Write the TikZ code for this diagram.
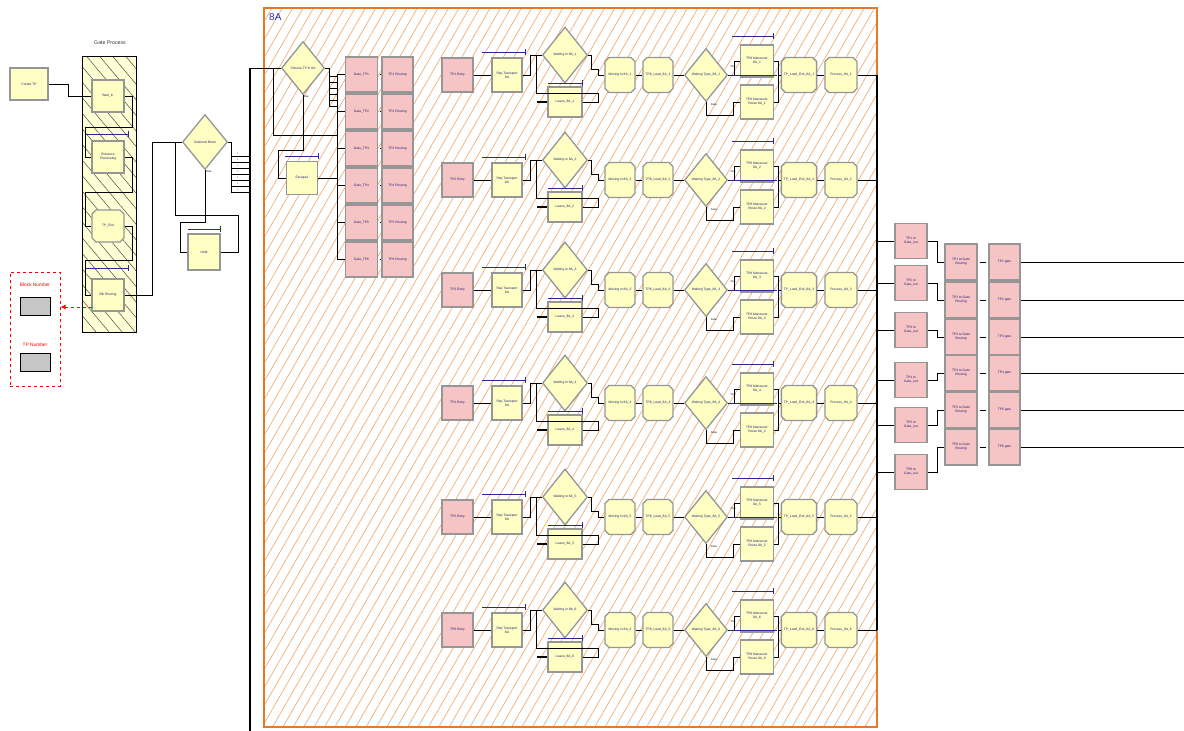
\documentclass[tikz,border=0pt]{standalone}
\usepackage{fontspec}
\setmainfont{Liberation Sans}
\usetikzlibrary{shapes.geometric,shapes.misc,patterns.meta,arrows.meta,calc}
\definecolor{ayel}{RGB}{255,255,196}
\definecolor{apink}{RGB}{246,196,196}
\definecolor{aedge}{RGB}{150,150,150}
\definecolor{atext}{RGB}{30,30,120}
\definecolor{abar}{RGB}{40,40,150}
\definecolor{aorange}{RGB}{232,120,40}
\definecolor{ahatch}{RGB}{240,175,120}
\definecolor{ablue}{RGB}{40,40,200}
\tikzset{
  mod/.style={draw=aedge, line width=1.3pt, inner sep=0.5pt, align=center, text=atext,
    font=\fontsize{3.3}{3.8}\selectfont},
  ybox/.style={mod, rectangle, fill=ayel},
  pbox/.style={mod, rectangle, fill=apink},
  hexbox/.style={mod, chamfered rectangle, chamfered rectangle xsep=2pt, chamfered rectangle ysep=2pt, fill=ayel},
  dmd/.style={mod, diamond, fill=ayel, inner sep=0pt},
  qbar/.style={draw=abar, line width=1pt},
  conn/.style={draw=black, line width=0.9pt},
  tiny/.style={font=\fontsize{2.6}{3}\selectfont, text=black, inner sep=0pt},
}
\begin{document}
\begin{tikzpicture}[x=1pt,y=-1pt]
\useasboundingbox[fill=white] (0,0) rectangle (1184,731);

% ---------- main 8A frame ----------
\node[draw=aorange, line width=1.5pt, preaction={fill=white}, minimum width=613pt, minimum height=719pt,
  pattern={Lines[angle=60,distance=9pt,line width=0.7pt]}, pattern color=ahatch] (frame) at (570.5,367.5) {};
\node[anchor=north west, text=ablue, font=\fontsize{10}{11}\selectfont, inner sep=0pt] (lab8a) at (269,13) {8A};

% ---------- Gate Process frame ----------
\node[draw=black, line width=1pt, preaction={fill=ayel!70}, minimum width=54pt, minimum height=276pt,
  pattern={Lines[angle=-50,distance=10pt,line width=0.5pt]}, pattern color=black!70] (gpf) at (109,194) {};
\node[font=\fontsize{5.2}{5.5}\selectfont, text=black!80, inner sep=0pt] (gptitle) at (110,43) {Gate Process};

% ---------- left modules ----------
\node[ybox, minimum width=38pt, minimum height=32pt] (create) at (29,84) {Create TP};
\node[ybox, minimum width=32pt, minimum height=32pt] (b1) at (108,96) {Wait\_In};
\node[ybox, minimum width=32pt, minimum height=32pt] (b2) at (108,157) {Entrance\\Processing};
\node[hexbox, minimum width=32pt, minimum height=32pt] (b3) at (108,226) {TP\_Exit};
\node[ybox, minimum width=32pt, minimum height=32pt] (b4) at (108,295) {Blk Routing};
\draw[qbar] (86,134) -- (128,134) ++(0,-3) -- ++(0,6);
\draw[qbar] (86,268) -- (128,268) ++(0,-3) -- ++(0,6);

\draw[conn] (create.east) -- (68,84) |- (b1.west);
\draw[conn] (b1.east) -- (132,96) |- (85,127) |- (b2.west);
\draw[conn] (b2.east) -- (132,157) |- (85,192) |- (b3.west);
\draw[conn] (b3.east) -- (132,226) |- (85,260) |- (b4.west);

\node[dmd, minimum width=45pt, minimum height=55pt] (sel) at (205,142) {Selected Block};
\node[tiny] (selelse) at (209,172) {Else};
\node[ybox, minimum width=32pt, minimum height=36pt] (hold) at (204,252) {Hold};
\draw[qbar] (188,229) -- (220,229) ++(0,-3) -- ++(0,6);

\draw[conn] (b4.east) -- (152,295) |- (sel.west);
\draw[conn] (sel.south) |- (180,222) |- (hold.west);
\draw[conn] (hold.east) -| (238,215) -| (175,142);
\draw[conn] (sel.east) -- (231,142) -- (231,192);
\foreach \k in {0,...,6}{
  \draw[conn] (231,156+6*\k) -- (250,156+6*\k);
  \node[tiny, font=\fontsize{2}{2}\selectfont] (sl\k) at (238,154+6*\k) {1};
}

% main bus
\coordinate (bustop) at (250,68);
\coordinate (busbot) at (250,731);
\draw[conn, line width=1.2pt] (bustop) -- (busbot);

% variables box
\node[draw=red, dashed, line width=1pt, minimum width=50pt, minimum height=114pt] (vars) at (35,329) {};
\node[text=red, font=\fontsize{4.8}{5}\selectfont, inner sep=0pt] (vlab1) at (35,285) {Block Number};
\node[draw=black, line width=0.8pt, fill=gray!45, minimum width=30pt, minimum height=18pt] (var1) at (35,306) {};
\node[text=red, font=\fontsize{4.8}{5}\selectfont, inner sep=0pt] (vlab2) at (35,345) {TP Number};
\node[draw=black, line width=0.8pt, fill=gray!45, minimum width=30pt, minimum height=18pt] (var2) at (35,362) {};
\coordinate (arrs) at (92,307);
\draw[red, dashed, line width=1pt, -{Latex[length=5pt,width=5pt]}] (arrs) -- (vars.east |- arrs);

% ---------- 8A first stage ----------
\node[dmd, minimum width=43pt, minimum height=53pt] (choose) at (303,68) {Choose TP in 8A};
\node[tiny] (chelse) at (306,97) {Else};
\draw[conn] (bustop) -- (choose.west);
\node[ybox, minimum width=31pt, minimum height=33pt] (esc) at (302,178) {Escape1};
\draw[qbar] (285,156) -- (318,156) ++(0,-3) -- ++(0,6);

\foreach \j in {1,...,6}{
  \pgfmathsetmacro\gy{74.5+37*(\j-1)}
  \node[pbox, minimum width=32pt, minimum height=35pt] (gate\j) at (361.5,\gy) {Gate\_TP\j};
  \node[pbox, minimum width=31pt, minimum height=35pt] (trt\j) at (397.5,\gy) {TP\j{} Routing};
  \draw[conn] (337,\gy) -- (gate\j.west);
  \draw[conn] ($(gate\j.east)+(1.5,0)$) -- ($(trt\j.west)+(-1.5,0)$);
}
\draw[conn] (337,74.5) -- (337,259.5);
\draw[conn] (choose.east) -- (329,68) -- (329,106);
\foreach \k in {1,...,6}{ \draw[conn] (329,70+6*\k) -- (337,70+6*\k); }
\draw[conn] (273,68) |- (337,135);
\draw[conn] (choose.south) |- (278,150) |- (esc.west);
\draw[conn] (esc.east) -- (337,178);

% ---------- six rows ----------
\foreach \i/\yc in {1/75,2/180,3/290,4/403,5/517,6/630}{
  \node[pbox, minimum width=31pt, minimum height=34pt] (entry\i) at (457.5,\yc) {TP\i{} Entry};
  \node[ybox, minimum width=30pt, minimum height=34pt] (req\i) at (507,\yc) {Req Transport\\8A};
  \draw[qbar] (482,\yc-23) -- (525,\yc-23) ++(0,-3) -- ++(0,6);
  \node[dmd, minimum width=45pt, minimum height=56pt] (wait\i) at (565,\yc-20) {Waiting in 8A\_\i};
  \node[ybox, minimum width=34pt, minimum height=30pt] (leave\i) at (565,\yc+27) {Leave\_8A\_\i};
  \draw[qbar] (548,\yc+8) -- (582,\yc+8) ++(0,-3) -- ++(0,6);
  \node[hexbox, minimum width=30pt, minimum height=35pt] (move\i) at (620,\yc) {Moving in 8A\_\i};
  \node[hexbox, minimum width=30pt, minimum height=35pt] (load\i) at (658,\yc) {TP8\_Load\_8A\_\i};
  \node[dmd, minimum width=43pt, minimum height=53pt] (wtype\i) at (706,\yc) {Waiting Type\_8A\_\i};
  \node[ybox, minimum width=33pt, minimum height=32pt] (man\i) at (757,\yc-14) {TP8 Maneuver\\8A\_\i};
  \draw[qbar] (732,\yc-39) -- (773,\yc-39) ++(0,-3) -- ++(0,6);
  \node[ybox, minimum width=33pt, minimum height=34pt] (route\i) at (757,\yc+27) {TP8 Maneuver\\Route 8A\_\i};
  \node[hexbox, minimum width=32pt, minimum height=35pt] (exitl\i) at (799,\yc) {TP\_Load\_Exit\_8A\_\i};
  \node[hexbox, minimum width=32pt, minimum height=35pt] (proc\i) at (841,\yc) {Process\_8A\_\i};
  \coordinate (fr\i) at (877,\yc);
  \node[tiny] (tr\i) at (733,\yc-8) {True};
  \node[tiny] (fa\i) at (714,\yc+30) {False};

  \draw[conn] (entry\i.east) -- (req\i.west);
  \draw[conn] (req\i.east) -- (530,\yc) |- (wait\i.west);
  \draw[conn] (leave\i.east) -| (598,\yc+18) -| (536,\yc-20);
  \draw[conn, line width=1.6pt] (leave\i.west) -- ++(-10,0);
  \draw[conn] (wait\i.east) -| (591,\yc-6) -| (598,\yc) -- (move\i.west);
  \draw[conn] (move\i.east) -- (load\i.west);
  \draw[conn] (load\i.east) -- (wtype\i.west);
  \draw[conn] (wtype\i.east) -- (734,\yc) |- (man\i.west);
  \draw[conn] (wtype\i.south) |- (733,\yc+40) |- (route\i.west);
  \draw[conn] (man\i.east) -| (778,\yc) -- (exitl\i.west);
  \draw[conn] (route\i.east) -| (778,\yc);
  \draw[abar, line width=1pt] (729,\yc) -- (777,\yc);
  \draw[conn] (exitl\i.east) -- (proc\i.west);
  \draw[conn] (proc\i.east) -- (fr\i);
}
\draw[conn, line width=1.2pt] (fr1) -- (fr6);

% ---------- right columns ----------
\foreach \j/\ya/\yb in {1/241/262,2/283/300,3/330/337,4/380/373,5/425/410,6/472/447}{
  \node[pbox, minimum width=32pt, minimum height=35pt] (gout\j) at (911,\ya) {TP\j{} to\\Gate\_out};
  \node[pbox, minimum width=32pt, minimum height=36pt] (grt\j) at (961,\yb) {TP\j{} to Gate\\Routing};
  \node[pbox, minimum width=31pt, minimum height=36pt] (gt\j) at (1004.5,\yb) {TP\j{} gate};
  \coordinate (rin\j) at (877,\ya);
  \coordinate (rout\j) at (1184,\yb);
  \draw[conn] (rin\j) -- (gout\j.west);
  \draw[conn] (gout\j.east) -- (937,\ya) |- (grt\j.west);
  \draw[conn] ($(grt\j.east)+(2,0)$) -- ($(gt\j.west)+(-2,0)$);
  \draw[conn] (gt\j.east) -- (rout\j);
}
\end{tikzpicture}
\end{document}
